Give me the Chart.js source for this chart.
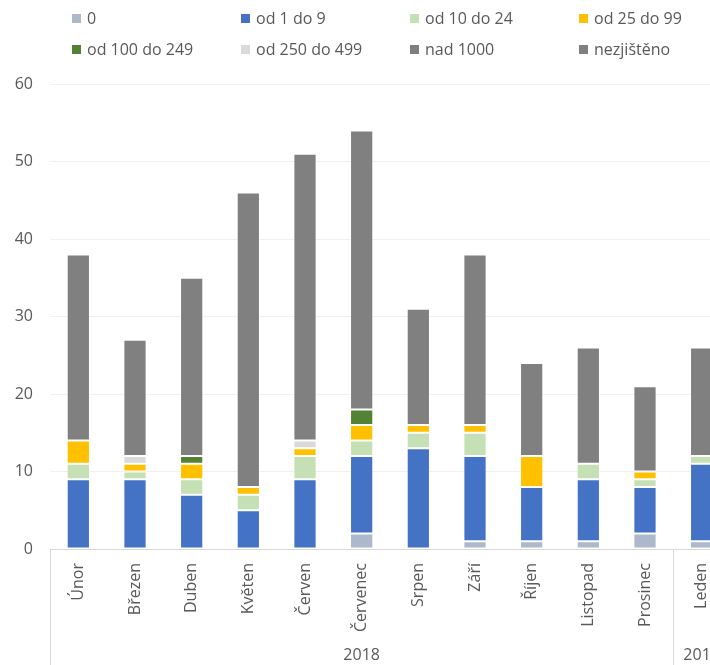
<!DOCTYPE html>
<html>
<head>
<meta charset="utf-8">
<script src="https://cdn.jsdelivr.net/npm/chart.js@4/dist/chart.umd.min.js"></script>
<style>
  html, body { margin: 0; padding: 0; width: 710px; height: 665px; overflow: hidden; background: #fff; }
  #wrap { position: absolute; left: 0; top: 0; width: 738px; height: 665px; }
  #legend { position: absolute; left: 0; top: 0; width: 738px; height: 66px; font: 16px "Open Sans", "Noto Sans", sans-serif; color: #595959; }
  .li { position: absolute; white-space: nowrap; line-height: 20px; }
  .li i { display: inline-block; width: 9px; height: 9px; margin-right: 6px; vertical-align: 1px; }
</style>
</head>
<body>
<div id="wrap">
  <canvas id="c" width="738" height="665"></canvas>
  <div id="legend"></div>
</div>
<script>
// months, grouped by year below the axis
const categories = ['Únor', 'Březen', 'Duben', 'Květen', 'Červen', 'Červenec', 'Srpen', 'Září', 'Říjen', 'Listopad', 'Prosinec', 'Leden'];
const years = ['2018', '2019'];
const yearSpans = [11, 1];

// series, bottom to top
const seriesNames = ['0', 'od 1 do 9', 'od 10 do 24', 'od 25 do 99', 'od 100 do 249', 'od 250 do 499', 'nad 1000', 'nezjištěno'];
const seriesColors = ['#ADB9CA', '#4472C4', '#C5E0B4', '#FFC000', '#548235', '#D9D9D9', '#7F7F7F', '#808080'];
const v0       = [0, 0, 0, 0, 0, 2, 0, 1, 1, 1, 2, 1];
const v1to9    = [9, 9, 7, 5, 9, 10, 13, 11, 7, 8, 6, 10];
const v10to24  = [2, 1, 2, 2, 3, 2, 2, 3, 0, 2, 1, 1];
const v25to99  = [3, 1, 2, 1, 1, 2, 1, 1, 4, 0, 1, 0];
const v100to249 = [0, 0, 1, 0, 0, 2, 0, 0, 0, 0, 0, 0];
const v250to499 = [0, 1, 0, 0, 1, 0, 0, 0, 0, 0, 0, 0];
const vNad1000 = [0, 0, 0, 0, 0, 0, 0, 0, 0, 0, 0, 0];
const vNezjisteno = [24, 15, 23, 38, 37, 36, 15, 22, 12, 15, 11, 14];
const seriesValues = [v0, v1to9, v10to24, v25to99, v100to249, v250to499, vNad1000, vNezjisteno];

const yTicks = [0, 10, 20, 30, 40, 50, 60];

const FONT = '"Open Sans", "Noto Sans", sans-serif';
const TXT = '#595959';

// legend: 4 columns x 2 rows like the original
const legendCols = [72, 241, 410, 579];
const legendRows = [8, 39];
const lg = document.getElementById('legend');
seriesNames.forEach((n, i) => {
  const d = document.createElement('div');
  d.className = 'li';
  d.style.left = legendCols[i % 4] + 'px';
  d.style.top = legendRows[Math.floor(i / 4)] + 'px';
  d.innerHTML = '<i style="background:' + seriesColors[i] + '"></i>' + n;
  lg.appendChild(d);
});

// year labels + separators under the month labels
const yearGroups = {
  id: 'yearGroups',
  afterDraw(chart) {
    const x = chart.scales.x, c = chart.ctx;
    const top = x.top, bottom = chart.height;
    const half = (x.getPixelForValue(1) - x.getPixelForValue(0)) / 2;
    c.save();
    c.strokeStyle = '#D9D9D9';
    c.lineWidth = 1;
    c.fillStyle = TXT;
    c.font = '16px ' + FONT;
    c.textAlign = 'center';
    c.textBaseline = 'middle';
    let start = 0;
    yearSpans.forEach((n, gi) => {
      const l = x.getPixelForValue(start) - half;
      const r = x.getPixelForValue(start + n - 1) + half;
      c.beginPath();
      c.moveTo(Math.round(l) + 0.5, top);
      c.lineTo(Math.round(l) + 0.5, bottom);
      c.stroke();
      c.fillText(years[gi], (l + r) / 2, 655);
      start += n;
    });
    c.restore();
  }
};

new Chart(document.getElementById('c').getContext('2d'), {
  type: 'bar',
  data: {
    labels: categories,
    datasets: seriesNames.map((n, i) => ({
      label: n,
      data: seriesValues[i],
      backgroundColor: seriesColors[i],
      borderColor: 'rgba(255,255,255,0.55)',
      borderWidth: ctx => (ctx.raw ? 1 : 0),
      borderSkipped: false,
      categoryPercentage: 1,
      barPercentage: 0.41
    }))
  },
  options: {
    responsive: false,
    animation: false,
    layout: { padding: { top: 84, right: 8, left: 0, bottom: 0 } },
    plugins: { legend: { display: false }, tooltip: { enabled: false } },
    scales: {
      x: {
        stacked: true,
        afterFit: s => { s.height = 116; },
        grid: { display: false, drawTicks: false },
        border: { display: true, color: '#D9D9D9', width: 1 },
        ticks: {
          color: TXT,
          font: { family: FONT, size: 16 },
          minRotation: 90,
          maxRotation: 90,
          padding: 14,
          autoSkip: false
        }
      },
      y: {
        stacked: true,
        min: yTicks[0],
        max: yTicks[yTicks.length - 1],
        afterFit: s => { s.width = 50; },
        afterBuildTicks: s => { s.ticks = yTicks.map(v => ({ value: v })); },
        grid: { color: '#F0F0F0', drawTicks: false },
        border: { display: false },
        ticks: {
          color: TXT,
          font: { family: FONT, size: 16 },
          padding: 17
        }
      }
    }
  },
  plugins: [yearGroups]
});
</script>
</body>
</html>
